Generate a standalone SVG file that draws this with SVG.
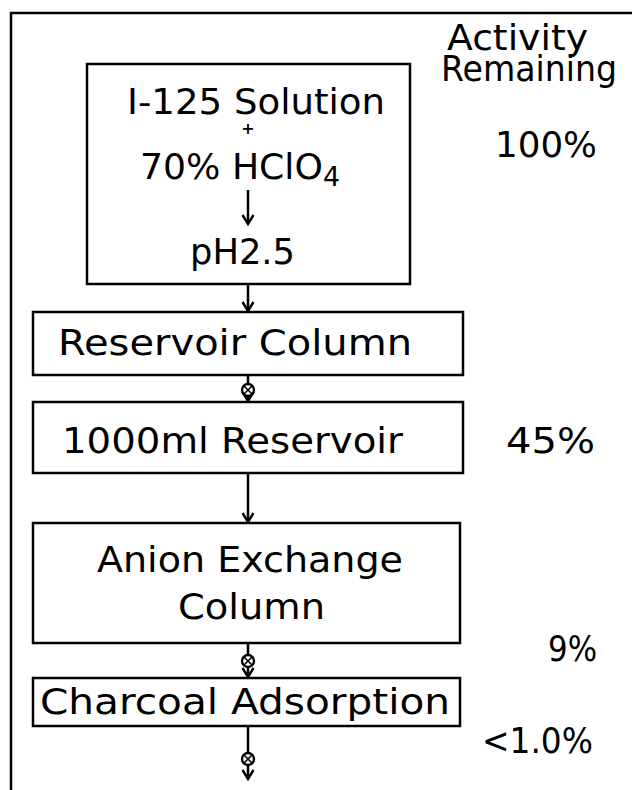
<svg xmlns="http://www.w3.org/2000/svg" width="632" height="790" viewBox="0 0 632 790">
<style>
.box{fill:#fff;stroke:#000;stroke-width:2.5}
.t{font-family:"DejaVu Sans","Liberation Sans",sans-serif;font-size:35px;fill:#000}
.ln{stroke:#000;stroke-width:2.5;fill:none}
.valve{fill:#fff;stroke:#000;stroke-width:2.4}
</style>
<defs>
<marker id="ah" markerWidth="14" markerHeight="14" refX="12" refY="7" orient="auto" markerUnits="userSpaceOnUse" viewBox="0 0 14 14">
<path d="M3,1.5 L12,7 L3,12.5" fill="none" stroke="#000" stroke-width="2.4"/>
</marker>
</defs>
<rect width="632" height="790" fill="#fff"/>
<path class="ln" d="M11,790 V13 H632"/>
<text class="t" x="447" y="50" textLength="141" lengthAdjust="spacingAndGlyphs">Activity</text>
<text class="t" x="441" y="81" textLength="176" lengthAdjust="spacingAndGlyphs">Remaining</text>
<text class="t" x="495" y="157" textLength="102" lengthAdjust="spacingAndGlyphs">100%</text>
<text class="t" x="506" y="453" textLength="89" lengthAdjust="spacingAndGlyphs">45%</text>
<text class="t" x="548" y="661" textLength="49" lengthAdjust="spacingAndGlyphs">9%</text>
<text class="t" x="482" y="753" textLength="111" lengthAdjust="spacingAndGlyphs">&lt;1.0%</text>
<g id="n1">
<rect class="box" x="87" y="64" width="323" height="220"/>
<text class="t" x="127" y="114" textLength="258" lengthAdjust="spacingAndGlyphs">I-125 Solution</text>
<text class="t" x="248" y="134" text-anchor="middle" style="font-size:16px;font-weight:bold">+</text>
<text class="t" x="140" y="179" textLength="200" lengthAdjust="spacingAndGlyphs">70% HClO<tspan font-size="26" dy="7">4</tspan></text>
<line class="ln" x1="248" y1="190" x2="248" y2="224" marker-end="url(#ah)"/>
<text class="t" x="190" y="264" textLength="105" lengthAdjust="spacingAndGlyphs">pH2.5</text>
</g>
<g id="n2">
<rect class="box" x="33" y="312" width="430" height="63"/>
<text class="t" x="58" y="355" textLength="354" lengthAdjust="spacingAndGlyphs">Reservoir Column</text>
</g>
<g id="n3">
<rect class="box" x="33" y="402" width="430" height="71"/>
<text class="t" x="62" y="453" textLength="341" lengthAdjust="spacingAndGlyphs">1000ml Reservoir</text>
</g>
<g id="n4">
<rect class="box" x="33" y="523" width="427" height="120"/>
<text class="t" x="97" y="572" textLength="306" lengthAdjust="spacingAndGlyphs">Anion Exchange</text>
<text class="t" x="178" y="619" textLength="147" lengthAdjust="spacingAndGlyphs">Column</text>
</g>
<g id="n5">
<rect class="box" x="33" y="678" width="427" height="48"/>
<text class="t" x="40" y="714" textLength="410" lengthAdjust="spacingAndGlyphs">Charcoal Adsorption</text>
</g>
<g id="connectors">
<line class="ln" x1="248" y1="284" x2="248" y2="311" marker-end="url(#ah)"/>
<line class="ln" x1="248" y1="375" x2="248" y2="401" marker-end="url(#ah)"/>
<line class="ln" x1="248" y1="473" x2="248" y2="522" marker-end="url(#ah)"/>
<line class="ln" x1="248" y1="643" x2="248" y2="677" marker-end="url(#ah)"/>
<line class="ln" x1="248" y1="726" x2="248" y2="779" marker-end="url(#ah)"/>
<g class="valve">
<circle cx="248" cy="390" r="6"/>
<path d="M244,386 L252,394 M252,386 L244,394" stroke-width="1.6"/>
<circle cx="248" cy="661" r="6"/>
<path d="M244,657 L252,665 M252,657 L244,665" stroke-width="1.6"/>
<circle cx="248" cy="759" r="6"/>
<path d="M244,755 L252,763 M252,755 L244,763" stroke-width="1.6"/>
</g>
</g>
</svg>
